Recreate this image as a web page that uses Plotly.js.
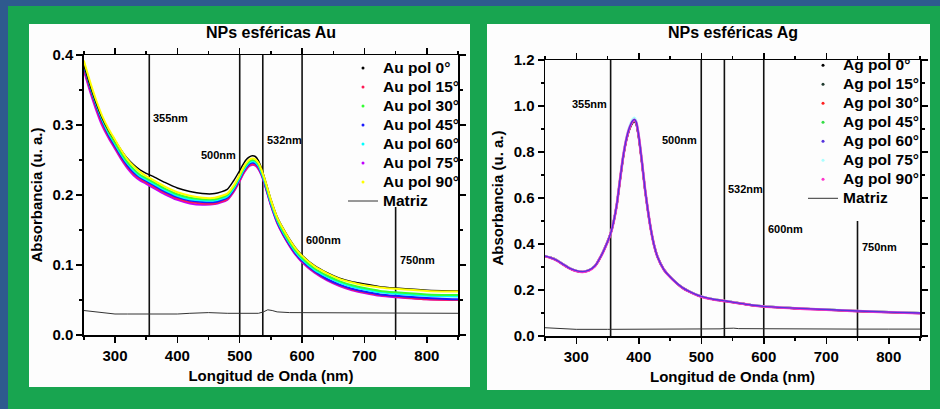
<!DOCTYPE html>
<html><head><meta charset="utf-8">
<script src="https://cdn.plot.ly/plotly-3.0.1.min.js"></script>
<style>html,body{margin:0;padding:0;background:#2e5a8e;} #chart{width:940px;height:409px;}</style>
</head><body><div id="chart"></div>
<script>
// ---------- Au data ----------
const auNm = [250,260,270,280,290,300,310,320,330,340, 350,360,380,400,420,440,460,480,490,500, 505,510,515,520,525,530,535,540,545,550, 560,570,580,590,600,620,640,660,680,700, 725,750,800,850];
const au0  = [.386,.357,.331,.309,.292,.278,.264,.252,.243,.236, .231,.227,.218,.21,.205,.202,.202,.208,.22,.235, .243,.25,.254,.256,.255,.249,.238,.224,.209,.194, .169,.152,.137,.124,.114,.099,.089,.081,.076,.073, .069,.067,.064,.063];
const au15 = [.381,.351,.324,.301,.283,.268,.253,.24,.23,.223, .218,.213,.203,.195,.19,.188,.188,.194,.205,.221, .23,.237,.242,.244,.243,.238,.229,.216,.201,.186, .161,.143,.128,.115,.105,.09,.079,.071,.065,.061, .057,.055,.051,.05];
const au30 = [.389,.359,.332,.309,.29,.275,.26,.247,.237,.229, .224,.219,.209,.201,.196,.194,.194,.2,.211,.227, .236,.243,.248,.25,.249,.244,.234,.221,.206,.191, .166,.148,.133,.12,.11,.095,.085,.077,.071,.067, .063,.061,.058,.057];
const au45 = [.384,.354,.327,.304,.285,.27,.255,.242,.232,.225, .22,.215,.205,.197,.192,.19,.19,.196,.207,.223, .232,.239,.244,.246,.245,.24,.23,.217,.202,.187, .162,.144,.129,.116,.106,.091,.08,.072,.066,.062, .058,.056,.053,.051];
const au60 = [.387,.357,.33,.307,.288,.273,.258,.245,.235,.227, .222,.217,.207,.199,.194,.192,.192,.198,.209,.225, .234,.241,.246,.248,.247,.242,.232,.219,.204,.189, .164,.146,.131,.118,.108,.093,.083,.075,.069,.065, .061,.059,.056,.055];
const au75 = [.378,.348,.321,.298,.281,.266,.251,.238,.228,.221, .216,.211,.201,.193,.188,.186,.187,.193,.204,.22, .229,.236,.241,.243,.242,.237,.228,.215,.2,.185, .16,.142,.127,.114,.104,.089,.078,.07,.064,.06, .056,.054,.051,.05];
const au90 = [.392,.362,.335,.312,.294,.279,.264,.251,.241,.233, .227,.222,.212,.204,.199,.196,.196,.202,.213,.229, .238,.245,.25,.252,.251,.246,.236,.223,.208,.193, .168,.151,.136,.123,.113,.098,.088,.08,.075,.071, .068,.066,.063,.062];
const auMatNm = [250,260,270,280,300,320,350,380,400,420,450,480,500,520,530,538,545,552,560,580,600,650,700,750,800,850];
const auMat   = [.035,.034,.032,.031,.030,.030,.030,.029,.030,.031,.032,.031,.031,.031,.031,.033,.036,.035,.033,.032,.032,.032,.031,.032,.031,.031];

// ---------- Ag data ----------
const agNm = [250,260,270,280,290,300,310,320,330,340, 350,355,360,365,370,375,380,385,390,393, 396,400,405,410,415,420,425,430,440,450, 460,470,480,500,520,540,560,580,600,650, 700,750,800,850];
const ag0  = [.347,.339,.327,.309,.293,.283,.279,.285,.304,.349, .409,.445,.499,.573,.677,.776,.85,.898,.927,.933, .922,.864,.756,.637,.538,.454,.389,.344,.289,.257, .231,.209,.194,.171,.159,.151,.142,.134,.128,.12, .114,.108,.103,.099];
const ag15 = [.348,.34,.328,.31,.294,.284,.28,.286,.305,.35, .41,.446,.5,.574,.678,.778,.852,.9,.929,.935, .924,.866,.757,.638,.539,.455,.39,.345,.29,.258, .232,.21,.195,.172,.16,.152,.143,.135,.129,.121, .115,.109,.104,.1];
const ag30 = [.348,.34,.328,.31,.294,.284,.28,.286,.305,.35, .41,.446,.5,.575,.68,.779,.854,.903,.932,.938, .927,.868,.758,.639,.54,.455,.39,.345,.29,.258, .232,.21,.195,.172,.16,.152,.143,.135,.129,.121, .115,.109,.104,.1];
const ag45 = [.348,.34,.328,.31,.294,.284,.28,.286,.305,.35, .41,.446,.5,.575,.68,.779,.855,.904,.932,.936, .926,.868,.759,.64,.54,.455,.39,.345,.29,.258, .232,.21,.195,.172,.16,.152,.143,.135,.129,.121, .115,.109,.104,.1];
const ag60 = [.348,.34,.328,.31,.294,.284,.28,.286,.305,.35, .41,.446,.5,.575,.68,.78,.855,.905,.935,.942, .93,.87,.76,.64,.54,.455,.39,.345,.29,.258, .232,.21,.195,.172,.16,.152,.143,.135,.129,.121, .115,.109,.104,.1];
const ag75 = [.349,.341,.329,.311,.295,.285,.281,.287,.306,.351, .411,.447,.502,.578,.684,.785,.862,.913,.943,.95, .938,.877,.765,.643,.542,.456,.391,.346,.291,.259, .233,.211,.196,.173,.161,.153,.144,.136,.13,.122, .116,.11,.105,.101];
const ag90 = [.347,.339,.327,.309,.293,.283,.279,.285,.304,.349, .409,.445,.499,.574,.679,.779,.853,.903,.933,.94, .928,.869,.759,.639,.539,.454,.389,.344,.289,.257, .231,.209,.194,.171,.159,.151,.142,.134,.128,.12, .114,.108,.103,.099];
const agMatNm = [250,260,270,280,300,350,400,450,500,530,538,545,552,560,600,650,700,750,800,850];
const agMat   = [.036,.034,.032,.03,.029,.029,.029,.03,.03,.031,.033,.035,.034,.032,.031,.031,.03,.03,.03,.03];

// ---------- reference lines & labels ----------
const refNm = [355, 500, 537, 600, 750];
const refLabels = ['355nm', '500nm', '532nm', '600nm', '750nm'];
const auRefTop = [0.4, 0.4, 0.4, 0.4, 0.183];
const agRefTop = [1.2, 1.2, 1.2, 1.2, 0.5];
const auLabelY = [0.31, 0.257, 0.279, 0.136, 0.107];
const agLabelY = [1.009, 0.852, 0.639, 0.465, 0.387];

const angles = ['0°','15°','30°','45°','60°','75°','90°'];
const auColors = ['#000000','#ff1a55','#33ff33','#1a1aff','#00ffff','#c000ff','#ffff00'];
const agColors = ['#000000','#1f3a2e','#ff2020','#33dd44','#5533dd','#aaffff','#ff33cc'];
const auSeries = [au0,au15,au30,au45,au60,au75,au90];
const agSeries = [ag0,ag15,ag30,ag45,ag60,ag75,ag90];

// ---------- build ----------
const W = 940, H = 409;
const px = v => v / W;
const py = v => 1 - v / H;
const FONT = 'Liberation Sans, Arial, sans-serif';
const traces = [];

function vlines(top, xa, ya) {
  refNm.forEach((nm, i) => traces.push({
    x: [nm, nm], y: [0, top[i]], mode: 'lines', xaxis: xa, yaxis: ya,
    line: {color: '#111', width: 1.6}, showlegend: false, hoverinfo: 'skip'
  }));
}
vlines(auRefTop, 'x', 'y');
vlines(agRefTop, 'x2', 'y2');

traces.push({x: auMatNm, y: auMat, mode: 'lines', xaxis: 'x', yaxis: 'y', line: {color: '#333', width: 1}, showlegend: false});
traces.push({x: agMatNm, y: agMat, mode: 'lines', xaxis: 'x2', yaxis: 'y2', line: {color: '#333', width: 1}, showlegend: false});

// draw order (bottom -> top)
[5,1,3,4,2,0,6].forEach(i => traces.push({
  x: auNm, y: auSeries[i], mode: 'lines', xaxis: 'x', yaxis: 'y',
  line: {color: auColors[i], width: i === 0 ? 1.5 : 2, shape: 'spline', smoothing: 0.6}, showlegend: false
}));
const agWidth = [2, 2, 2, 2, 1.4, 2, 2.6];
[0,1,2,3,5,6,4].forEach(i => traces.push({
  x: agNm, y: agSeries[i], mode: 'lines', xaxis: 'x2', yaxis: 'y2',
  line: {color: agColors[i], width: agWidth[i], shape: 'spline', smoothing: 0.6}, showlegend: false
}));

// legend entries
function legendEntries(prefix, colors, lg, xa, ya) {
  angles.forEach((a, i) => traces.push({
    x: [null], y: [null], mode: 'markers', xaxis: xa, yaxis: ya, legend: lg,
    marker: {color: colors[i], size: 3},
    name: '<span style="font-size:15.5px">' + prefix + ' pol ' + a + '</span>'
  }));
  traces.push({x: [null], y: [null], mode: 'lines', xaxis: xa, yaxis: ya, legend: lg,
    line: {color: '#333', width: 1}, name: '<span style="font-size:15.5px">Matriz</span>'});
}
legendEntries('Au', auColors, 'legend', 'x', 'y');
legendEntries('Ag', agColors, 'legend2', 'x2', 'y2');

const boldFont = (s) => ({family: FONT, size: s, weight: 700, color: '#000'});

function xAxis(dom, anchor) {
  return {
    domain: dom, anchor: anchor, range: [250, 850], tick0: 0, dtick: 100,
    ticks: 'outside', ticklen: 6, tickwidth: 1.5, tickcolor: '#000',
    showline: true, linewidth: 1.5, linecolor: '#000', mirror: 'ticks',
    showgrid: false, zeroline: false, tickfont: boldFont(15),
    minor: {ticks: 'outside', ticklen: 3, tickwidth: 1.5, tickcolor: '#000', tick0: 0, dtick: 50, showgrid: false},
    title: {text: 'Longitud de Onda (nm)', font: boldFont(15), standoff: 8},
    fixedrange: true
  };
}
function yAxis(dom, anchor, top, dt) {
  return {
    domain: dom, anchor: anchor, range: [0, top], tick0: 0, dtick: dt, tickformat: '.1f',
    ticks: 'outside', ticklen: 6, tickwidth: 1.5, tickcolor: '#000',
    showline: true, linewidth: 1.5, linecolor: '#000', mirror: 'ticks',
    showgrid: false, zeroline: false, tickfont: boldFont(15),
    minor: {ticks: 'outside', ticklen: 3, tickwidth: 1.5, tickcolor: '#000', tick0: 0, dtick: dt / 2, showgrid: false},
    title: {text: 'Absorbancia (u. a.)', font: boldFont(15), standoff: 6},
    fixedrange: true
  };
}

const annotations = [
  {xref: 'paper', yref: 'paper', x: px(271), y: py(33), text: 'NPs esféricas Au', showarrow: false, font: boldFont(16), xanchor: 'center', yanchor: 'middle'},
  {xref: 'paper', yref: 'paper', x: px(733), y: py(33), text: 'NPs esféricas Ag', showarrow: false, font: boldFont(16), xanchor: 'center', yanchor: 'middle'}
];
const auAnchor = ['left', 'right', 'left', 'left', 'left'];
const agAnchor = ['right', 'right', 'left', 'left', 'left'];
refNm.forEach((nm, i) => {
  annotations.push({xref: 'x', yref: 'y', x: nm, y: auLabelY[i], text: refLabels[i], showarrow: false,
    xanchor: auAnchor[i], xshift: auAnchor[i] === 'left' ? 2 : -2, yanchor: 'middle', font: boldFont(11)});
  annotations.push({xref: 'x2', yref: 'y2', x: nm, y: agLabelY[i], text: refLabels[i], showarrow: false,
    xanchor: agAnchor[i], xshift: agAnchor[i] === 'left' ? 2 : -2, yanchor: 'middle', font: boldFont(11)});
});

const layout = {
  width: W, height: H, margin: {l: 0, r: 0, t: 0, b: 0},
  paper_bgcolor: '#2e5a8e', plot_bgcolor: 'rgba(0,0,0,0)',
  font: {family: FONT, color: '#000'},
  showlegend: true, hovermode: false,
  xaxis: xAxis([px(83.8), px(458)], 'y'),
  yaxis: yAxis([py(335), py(55)], 'x', 0.4, 0.1),
  xaxis2: xAxis([px(545), px(920)], 'y2'),
  yaxis2: yAxis([py(336), py(60)], 'x2', 1.2, 0.2),
  legend: {x: px(343), y: py(53.5), xanchor: 'left', yanchor: 'top', bgcolor: 'rgba(0,0,0,0)', borderwidth: 0,
    font: {family: FONT, size: 12.2, weight: 700, color: '#000'}, tracegroupgap: 0},
  legend2: {x: px(803), y: py(50.8), xanchor: 'left', yanchor: 'top', bgcolor: 'rgba(0,0,0,0)', borderwidth: 0,
    font: {family: FONT, size: 11.85, weight: 700, color: '#000'}, tracegroupgap: 0},
  shapes: [
    {type: 'rect', xref: 'paper', yref: 'paper', x0: px(8), x1: 1, y0: 0, y1: py(6), fillcolor: '#18a550', line: {width: 0}, layer: 'below'},
    {type: 'rect', xref: 'paper', yref: 'paper', x0: px(29), x1: px(470), y0: py(387), y1: py(24), fillcolor: '#fdfdfd', line: {width: 0}, layer: 'below'},
    {type: 'rect', xref: 'paper', yref: 'paper', x0: px(487), x1: px(930), y0: py(390), y1: py(24), fillcolor: '#fdfdfd', line: {width: 0}, layer: 'below'}
  ],
  annotations: annotations
};

Plotly.newPlot('chart', traces, layout, {staticPlot: true, displayModeBar: false});
</script>
</body></html>
